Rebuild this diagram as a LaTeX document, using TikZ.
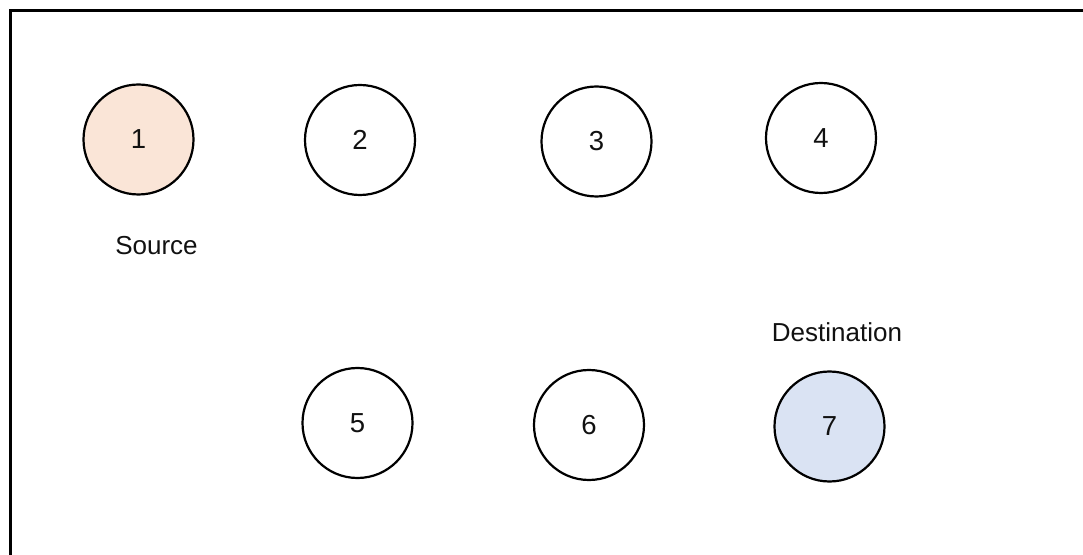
\documentclass[tikz,border=0pt]{standalone}
\usepackage{fontspec}
\setmainfont{Liberation Sans}
\definecolor{srcfill}{HTML}{FAE5D7}
\definecolor{dstfill}{HTML}{DAE3F3}
\definecolor{inkc}{HTML}{111111}
\begin{document}
\begin{tikzpicture}[x=1bp,y=-1bp,
  vertex/.style={circle,draw=black,line width=2.2bp,minimum size=110bp,inner sep=0pt,
    font=\fontsize{27.5bp}{30bp}\selectfont,text=inkc},
  lbl/.style={anchor=base,inner sep=0pt,font=\fontsize{26bp}{30bp}\selectfont,text=inkc}]
\useasboundingbox (0,0) rectangle (1083,555);
\clip (0,0) rectangle (1083,555);
\draw[line width=3bp] (10,570) -- (10,10.5) -- (1100,10.5);
\node[vertex,fill=srcfill] (n1) at (138.5,139.5) {1};
\node[vertex] (n2) at (360,140) {2};
\node[vertex] (n3) at (596.5,141.5) {3};
\node[vertex] (n4) at (821,138) {4};
\node[vertex] (n5) at (357.5,423) {5};
\node[vertex] (n6) at (589,425) {6};
\node[vertex,fill=dstfill] (n7) at (829.5,426.5) {7};
\node[lbl] (src) at (156.5,255) {Source};
\node[lbl] (dst) at (837,342) {Destination};
\end{tikzpicture}
\end{document}
